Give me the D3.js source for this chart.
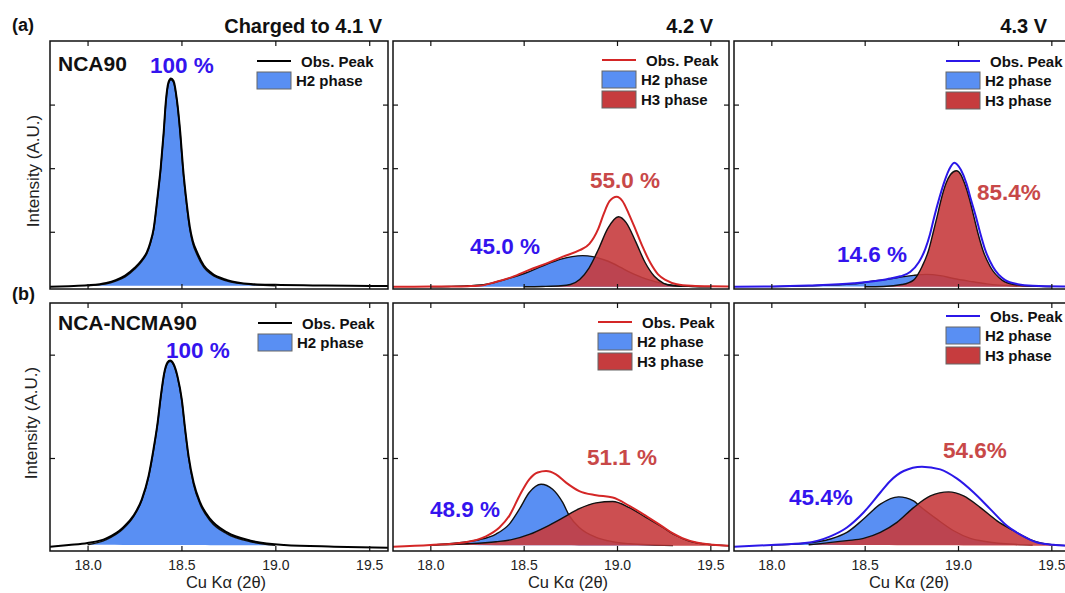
<!DOCTYPE html>
<html>
<head>
<meta charset="utf-8">
<script src="https://cdn.jsdelivr.net/npm/d3@7"></script>
<style>
  body { margin: 0; background: #fff; }
  svg { display: block; }
  text { font-family: "Liberation Sans", Arial, sans-serif; }
</style>
</head>
<body>
<div id="chart"></div>
<script>
// ---- values: [2theta, intensity (a.u.)] ----
// (a) NCA90
var obsA41 = [[17.8,0.036],[17.9,0.045],[18.0,0.058],[18.1,0.095],[18.15,0.14],[18.2,0.21],[18.25,0.33],[18.29,0.46],[18.316,0.58],[18.335,0.74],[18.352,0.95],[18.37,1.38],[18.39,1.92],[18.405,2.45],[18.417,2.95],[18.431,3.25],[18.444,3.31],[18.458,3.27],[18.476,2.97],[18.494,2.45],[18.508,1.92],[18.526,1.40],[18.545,0.97],[18.56,0.76],[18.583,0.58],[18.619,0.37],[18.66,0.25],[18.744,0.14],[18.869,0.079],[19.0,0.065],[19.2,0.056],[19.4,0.05],[19.6,0.047]];
var h2A41 = [[18.0,0.05],[18.1,0.08],[18.15,0.125],[18.2,0.19],[18.25,0.31],[18.29,0.44],[18.316,0.56],[18.335,0.72],[18.352,0.93],[18.37,1.36],[18.39,1.9],[18.405,2.43],[18.417,2.93],[18.431,3.23],[18.444,3.29],[18.458,3.25],[18.476,2.95],[18.494,2.42],[18.508,1.88],[18.526,1.36],[18.545,0.93],[18.56,0.72],[18.583,0.54],[18.619,0.34],[18.66,0.23],[18.744,0.125],[18.869,0.07],[19.0,0.05]];

var obsA42 = [[17.8,0.036],[18.0,0.038],[18.2,0.045],[18.26,0.05],[18.35,0.11],[18.44,0.19],[18.53,0.30],[18.62,0.40],[18.71,0.51],[18.8,0.61],[18.852,0.71],[18.9,0.95],[18.93,1.19],[18.96,1.38],[18.998,1.45],[19.03,1.38],[19.062,1.19],[19.10,0.93],[19.137,0.665],[19.18,0.404],[19.22,0.23],[19.262,0.14],[19.32,0.075],[19.4,0.05],[19.5,0.042],[19.6,0.04]];
var h2A42 = [[18.0,0.036],[18.1,0.04],[18.2,0.05],[18.3,0.075],[18.4,0.15],[18.5,0.24],[18.6,0.36],[18.7,0.47],[18.76,0.51],[18.816,0.525],[18.87,0.51],[18.93,0.46],[18.976,0.405],[19.02,0.34],[19.065,0.27],[19.11,0.21],[19.155,0.16],[19.2,0.12],[19.244,0.085],[19.3,0.06],[19.4,0.042],[19.5,0.037]];
var h3A42 = [[18.5,0.036],[18.6,0.04],[18.7,0.05],[18.75,0.07],[18.8,0.15],[18.85,0.33],[18.9,0.62],[18.95,0.95],[19.008,1.137],[19.05,1.04],[19.1,0.745],[19.15,0.42],[19.2,0.2],[19.25,0.09],[19.3,0.052],[19.4,0.04],[19.5,0.036]];

var obsA43 = [[17.8,0.036],[18.0,0.04],[18.2,0.055],[18.441,0.09],[18.62,0.155],[18.691,0.2],[18.745,0.27],[18.79,0.42],[18.825,0.63],[18.85,0.86],[18.873,1.137],[18.9,1.43],[18.924,1.662],[18.951,1.87],[18.98,1.986],[19.016,1.87],[19.045,1.662],[19.07,1.40],[19.096,1.137],[19.12,0.87],[19.146,0.613],[19.187,0.35],[19.253,0.14],[19.32,0.075],[19.4,0.05],[19.6,0.038]];
var h2A43 = [[18.0,0.038],[18.2,0.05],[18.441,0.08],[18.53,0.12],[18.62,0.152],[18.71,0.195],[18.762,0.215],[18.83,0.23],[18.905,0.21],[18.976,0.165],[19.065,0.12],[19.155,0.08],[19.3,0.05],[19.5,0.04]];
var h3A43 = [[18.5,0.036],[18.6,0.04],[18.7,0.07],[18.762,0.14],[18.807,0.35],[18.843,0.613],[18.866,0.876],[18.888,1.137],[18.909,1.40],[18.936,1.662],[18.96,1.8],[18.991,1.86],[19.015,1.8],[19.035,1.662],[19.063,1.40],[19.085,1.137],[19.107,0.876],[19.133,0.613],[19.173,0.35],[19.236,0.14],[19.3,0.07],[19.4,0.045],[19.5,0.037]];

// (b) NCA-NCMA90
var obsB41 = [[17.8,0.042],[17.9,0.058],[18.0,0.077],[18.1,0.122],[18.19,0.228],[18.244,0.34],[18.289,0.50],[18.325,0.726],[18.351,0.983],[18.373,1.24],[18.39,1.497],[18.408,1.72],[18.426,1.825],[18.44,1.844],[18.458,1.81],[18.479,1.69],[18.502,1.465],[18.52,1.176],[18.538,0.919],[18.565,0.66],[18.6,0.469],[18.654,0.308],[18.743,0.18],[18.868,0.1],[19.046,0.058],[19.313,0.042],[19.6,0.032]];
var h2B41 = [[18.0,0.06],[18.1,0.11],[18.19,0.215],[18.244,0.33],[18.289,0.49],[18.325,0.715],[18.351,0.97],[18.373,1.23],[18.39,1.485],[18.408,1.71],[18.426,1.815],[18.44,1.835],[18.458,1.80],[18.479,1.68],[18.502,1.45],[18.52,1.16],[18.538,0.9],[18.565,0.64],[18.6,0.45],[18.654,0.29],[18.743,0.165],[18.868,0.09],[19.0,0.055]];

var obsB42 = [[17.8,0.042],[18.0,0.058],[18.18,0.083],[18.298,0.142],[18.37,0.228],[18.423,0.34],[18.477,0.533],[18.53,0.694],[18.575,0.76],[18.62,0.774],[18.673,0.742],[18.727,0.662],[18.798,0.58],[18.888,0.54],[18.977,0.517],[19.066,0.437],[19.155,0.34],[19.244,0.236],[19.3,0.17],[19.35,0.125],[19.425,0.083],[19.514,0.061],[19.6,0.05]];
var h2B42 = [[18.0,0.058],[18.1,0.07],[18.2,0.09],[18.262,0.109],[18.352,0.164],[18.423,0.26],[18.477,0.405],[18.53,0.566],[18.593,0.646],[18.655,0.598],[18.709,0.47],[18.745,0.34],[18.798,0.228],[18.888,0.132],[18.977,0.09],[19.07,0.07],[19.2,0.058],[19.3,0.052]];
var h3B42 = [[18.0,0.058],[18.2,0.07],[18.352,0.09],[18.441,0.112],[18.53,0.16],[18.62,0.234],[18.709,0.32],[18.798,0.41],[18.888,0.466],[18.977,0.479],[19.066,0.42],[19.155,0.325],[19.244,0.23],[19.316,0.15],[19.38,0.1],[19.45,0.072],[19.55,0.055],[19.6,0.05]];

var obsB43 = [[17.8,0.042],[18.0,0.058],[18.18,0.077],[18.316,0.142],[18.405,0.228],[18.494,0.373],[18.584,0.566],[18.637,0.678],[18.709,0.774],[18.807,0.816],[18.905,0.79],[18.995,0.70],[19.084,0.566],[19.173,0.405],[19.262,0.244],[19.351,0.142],[19.42,0.085],[19.51,0.06],[19.6,0.05]];
var h2B43 = [[18.0,0.058],[18.18,0.075],[18.316,0.116],[18.405,0.18],[18.494,0.309],[18.584,0.453],[18.682,0.524],[18.762,0.485],[18.798,0.43],[18.887,0.308],[18.977,0.196],[19.066,0.122],[19.155,0.09],[19.3,0.065],[19.4,0.058]];
var h3B43 = [[18.2,0.06],[18.405,0.1],[18.494,0.122],[18.584,0.18],[18.673,0.277],[18.762,0.42],[18.852,0.533],[18.95,0.572],[19.03,0.533],[19.12,0.42],[19.209,0.292],[19.298,0.196],[19.387,0.11],[19.45,0.075],[19.52,0.058],[19.6,0.05]];

// phase fractions: [text, 2theta, intensity] of each label
var pctA41 = [["100 %", 18.332, 3.40, "h2"]];
var pctA42 = [["45.0 %", 18.212, 0.55, "h2"], ["55.0 %", 18.855, 1.59, "h3"]];
var pctA43 = [["14.6 %", 18.352, 0.425, "h2"], ["85.4%", 19.102, 1.40, "h3"]];
var pctB41 = [["100 %", 18.418, 1.87, "h2"]];
var pctB42 = [["48.9 %", 17.998, 0.328, "h2"], ["51.1 %", 18.839, 0.829, "h3"]];
var pctB43 = [["45.4%", 18.095, 0.443, "h2"], ["54.6%", 18.919, 0.896, "h3"]];

var sampleNames = ["NCA90", "NCA-NCMA90"];
var rowTags = ["(a)", "(b)"];
var voltages = ["Charged to 4.1 V", "4.2 V", "4.3 V"];
var legendNames = ["Obs. Peak", "H2 phase", "H3 phase"];
var xTicks = [18.0, 18.5, 19.0, 19.5];
var xDomain = [17.8, 19.6];

// ---- layout ----
var svgWidth = 1065, svgHeight = 593;
var columns = [{left: 50, width: 338}, {left: 393, width: 336}, {left: 734, width: 336}];
var rows = [
  {top: 41, height: 248, domain: [0, 3.9], ticks: [0.9, 1.9, 2.9], yTitle: 171, yTitleX: 39},
  {top: 303, height: 248, domain: [0, 2.4], ticks: [0.9, 1.9], yTitle: 423, yTitleX: 37}
];
var colors = {h2: '#598ff3', h3: '#c63c3e', black: '#000000', red: '#d42626', blue: '#2b17e8',
              pctH2: '#3414ee', pctH3: '#c84848'};
var obsColors = [colors.black, colors.red, colors.blue];
var legendPos = [[207, 20], [209, 19], [212, 20], [208, 20], [205, 19], [212, 13]];
var voltageX = [382, 713, 1047];

var panels = [
  {row: 0, col: 0, obs: obsA41, h2: h2A41, h3: null,  pct: pctA41},
  {row: 0, col: 1, obs: obsA42, h2: h2A42, h3: h3A42, pct: pctA42},
  {row: 0, col: 2, obs: obsA43, h2: h2A43, h3: h3A43, pct: pctA43},
  {row: 1, col: 0, obs: obsB41, h2: h2B41, h3: null,  pct: pctB41},
  {row: 1, col: 1, obs: obsB42, h2: h2B42, h3: h3B42, pct: pctB42},
  {row: 1, col: 2, obs: obsB43, h2: h2B43, h3: h3B43, pct: pctB43}
];

var svg = d3.select('#chart')
  .append('svg')
  .attr('width', svgWidth)
  .attr('height', svgHeight);

// straight background under a fitted component, from its first to its last point
function baseAt(data, x) {
  var a = data[0], b = data[data.length - 1];
  return a[1] + (b[1] - a[1]) * (x - a[0]) / (b[0] - a[0]);
}

panels.forEach(function(p, i) {
  var col = columns[p.col], row = rows[p.row];
  var g = svg.append('g')
    .attr('transform', `translate(${col.left}, ${row.top})`);

  var xScale = d3.scaleLinear().domain(xDomain).range([0, col.width]);
  var yScale = d3.scaleLinear().domain(row.domain).range([row.height, 0]);

  var clipId = 'clip' + i;
  g.append('clipPath').attr('id', clipId)
    .append('rect').attr('width', col.width).attr('height', row.height);
  var plot = g.append('g').attr('clip-path', `url(#${clipId})`);

  var area = d3.area()
    .curve(d3.curveMonotoneX)
    .x(d => xScale(d[0]))
    .y1(d => yScale(d[1]))
    .y0((d, j, data) => yScale(baseAt(data, d[0])));
  var line = d3.line()
    .curve(d3.curveMonotoneX)
    .x(d => xScale(d[0]))
    .y(d => yScale(d[1]));

  // fitted phases
  plot.append('path').datum(p.h2)
    .attr('d', area).attr('fill', colors.h2);
  plot.append('path').datum(p.h2)
    .attr('d', line).attr('fill', 'none').attr('stroke', '#111').attr('stroke-width', 1.4);
  if (p.h3) {
    plot.append('path').datum(p.h3)
      .attr('d', area).attr('fill', colors.h3).attr('fill-opacity', 0.9);
    plot.append('path').datum(p.h3)
      .attr('d', line).attr('fill', 'none').attr('stroke', '#111').attr('stroke-width', 1.4);
  }
  // observed peak
  plot.append('path').datum(p.obs)
    .attr('d', line).attr('fill', 'none')
    .attr('stroke', obsColors[p.col]).attr('stroke-width', 2);

  // inward ticks on all four sides
  var tickStyle = function(sel) {
    sel.select('.domain').remove();
    sel.selectAll('.tick line').attr('stroke', '#111').attr('stroke-width', 1.2);
  };
  g.append('g')
    .call(d3.axisTop(xScale).tickValues(xTicks).tickSize(-5).tickFormat(''))
    .call(tickStyle);
  var bottomAxis = g.append('g')
    .attr('transform', `translate(0, ${row.height})`)
    .call(d3.axisBottom(xScale).tickValues(xTicks).tickSize(-5).tickPadding(9)
      .tickFormat(p.row === 1 ? d3.format('.1f') : ''))
    .call(tickStyle);
  bottomAxis.selectAll('text')
    .attr('font-family', '"Liberation Sans", Arial, sans-serif')
    .attr('font-size', 14).attr('fill', '#222');
  g.append('g')
    .call(d3.axisLeft(yScale).tickValues(row.ticks).tickSize(-5).tickFormat(''))
    .call(tickStyle);
  g.append('g')
    .attr('transform', `translate(${col.width}, 0)`)
    .call(d3.axisRight(yScale).tickValues(row.ticks).tickSize(-5).tickFormat(''))
    .call(tickStyle);

  // frame
  g.append('rect')
    .attr('width', col.width).attr('height', row.height)
    .attr('fill', 'none').attr('stroke', '#111').attr('stroke-width', 1.5);

  // phase fraction labels
  g.selectAll('.pct')
    .data(p.pct)
    .enter()
    .append('text')
    .attr('x', d => xScale(d[1]))
    .attr('y', d => yScale(d[2]))
    .attr('font-size', 22.5).attr('font-weight', 'bold')
    .attr('fill', d => d[3] === 'h2' ? colors.pctH2 : colors.pctH3)
    .text(d => d[0]);

  // legend
  var lp = legendPos[i];
  var leg = g.append('g').attr('transform', `translate(${lp[0]}, ${lp[1]})`);
  leg.append('line').attr('x1', 0).attr('x2', 34).attr('y1', 0).attr('y2', 0)
    .attr('stroke', obsColors[p.col]).attr('stroke-width', 2);
  leg.append('text').attr('x', 44).attr('y', 5.5)
    .attr('font-size', 15).attr('font-weight', 'bold').attr('fill', '#111')
    .text(legendNames[0]);
  var swatches = p.h3 ? [colors.h2, colors.h3] : [colors.h2];
  swatches.forEach(function(c, k) {
    leg.append('rect').attr('x', 0).attr('y', 11 + k * 20).attr('width', 34).attr('height', 17)
      .attr('fill', c).attr('stroke', '#666').attr('stroke-width', 1);
    leg.append('text').attr('x', 39).attr('y', 25 + k * 20)
      .attr('font-size', 15).attr('font-weight', 'bold').attr('fill', '#111')
      .text(legendNames[k + 1]);
  });

  // sample name
  if (p.col === 0) {
    g.append('text').attr('x', 8).attr('y', p.row === 0 ? 30 : 27)
      .attr('font-size', 21).attr('font-weight', 'bold').attr('fill', '#111')
      .text(sampleNames[p.row]);
  }

  // x axis title
  if (p.row === 1) {
    g.append('text')
      .attr('x', col.width / 2 + 7).attr('y', row.height + 37)
      .attr('text-anchor', 'middle').attr('font-size', 16.5).attr('fill', '#222')
      .text('Cu Kα (2θ)');
  }
});

// row tags, y titles, voltage headers
rows.forEach(function(row, r) {
  svg.append('text').attr('x', 12).attr('y', r === 0 ? 30.5 : 300)
    .attr('font-size', 18).attr('font-weight', 'bold').attr('fill', '#111')
    .text(rowTags[r]);
  svg.append('text')
    .attr('transform', `translate(${row.yTitleX}, ${row.yTitle}) rotate(-90)`)
    .attr('text-anchor', 'middle').attr('font-size', 17).attr('fill', '#222')
    .text('Intensity (A.U.)');
});

voltages.forEach(function(v, c) {
  svg.append('text').attr('x', voltageX[c]).attr('y', 33)
    .attr('text-anchor', 'end').attr('font-size', 20).attr('font-weight', 'bold').attr('fill', '#111')
    .text(v);
});
</script>
</body>
</html>
